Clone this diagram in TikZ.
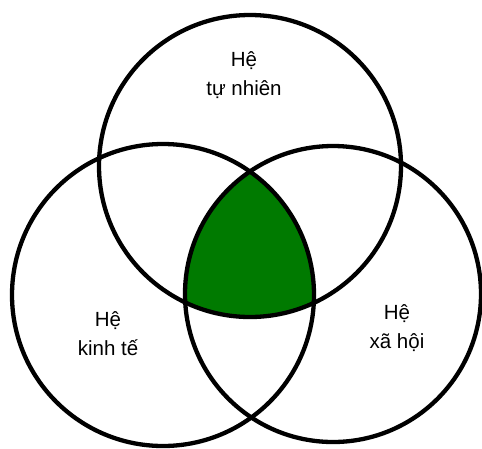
\documentclass[tikz,border=0pt]{standalone}
\usepackage{fontspec}
\setmainfont{Liberation Sans}
\definecolor{schnittgruen}{RGB}{0,122,0}

\begin{document}
\begin{tikzpicture}[x=1pt, y=-1pt, line width=4.3pt,
				kreis/.style={draw=black},
				schnitt/.style={fill=schnittgruen},
				beschriftung/.style={align=center, anchor=base, inner sep=0pt, font=\fontsize{20.5}{29}\selectfont}]
				%Bildbereich
				\useasboundingbox (0,0) rectangle (482,448);
				% Mittelpunkte
				\coordinate (mNatur) at (250,166);
				\coordinate (mWirtschaft) at (163,295);
				\coordinate (mGesellschaft) at (333,294);
				% Schnittmenge faerben
				\begin{scope}
					\clip (mNatur) circle (151);
					\clip (mWirtschaft) circle (151);
					\fill[schnitt] (mGesellschaft) circle (148);
				\end{scope}
				% Kreise zeichnen
				\draw[kreis] (mNatur) circle (151);
				\draw[kreis] (mWirtschaft) circle (151);
				\draw[kreis] (mGesellschaft) circle (148);
				%Beschriftung
				\node[beschriftung] (natur) at (244,95) {Hệ\\tự nhiên};
				\node[beschriftung] (wirtschaft) at (108,355) {Hệ\\kinh tế};
				\node[beschriftung] (gesellschaft) at (397,348) {Hệ\\xã hội};
\end{tikzpicture}
\end{document}
